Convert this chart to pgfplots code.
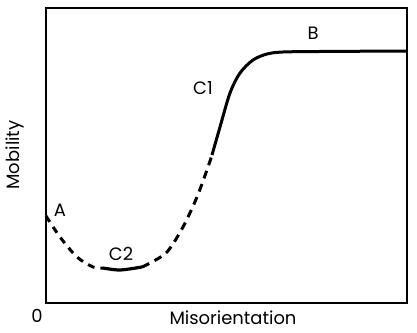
\documentclass[border=0pt]{standalone}
\usepackage{pgfplots}
\pgfplotsset{compat=1.18}
\usepackage{fontspec}
\setmainfont{Poppins}
\begin{document}
\begin{tikzpicture}[x=1bp,y=1bp]
\begin{axis}[
  scale only axis, width=361bp, height=295bp,
  xmin=0, xmax=361, ymin=0, ymax=295,
  ticks=none, clip=false,
  axis line style={line width=2bp},
]
\addplot[black, line width=3bp, dash pattern=on 7bp off 6bp, smooth] coordinates {
(0,87) (14,66) (31,46) (47,36) (57,35)};
\addplot[black, line width=3.2bp, smooth] coordinates {
(57,35) (74,33) (96,36)};
\addplot[black, line width=3bp, dash pattern=on 8bp off 6bp, smooth] coordinates {
(96,36) (104,40) (121,51) (137,76) (151,106) (162,136) (166,148)};
\addplot[black, line width=3bp, smooth] coordinates {
(166,148) (174,176) (184,210) (194,230) (207,243) (221,249) (237,251) (274,251.5) (361,252)};
\node[font=\fontsize{18}{18}\selectfont] at (axis cs:14,93) {A};
\node[font=\fontsize{18}{18}\selectfont] at (axis cs:75,49) {C2};
\node[font=\fontsize{18}{18}\selectfont] at (axis cs:157,215) {C1};
\node[font=\fontsize{18}{18}\selectfont] at (axis cs:267,270) {B};
\node[font=\fontsize{18}{18}\selectfont] at (axis cs:-9,-13) {0};
\node[font=\fontsize{18}{18}\selectfont] at (axis cs:187,-15) {Misorientation};
\node[font=\fontsize{18}{18}\selectfont, rotate=90] at (axis cs:-31,148) {Mobility};
\end{axis}
\pgfresetboundingbox
\path[use as bounding box] (-46bp,-30bp) rectangle (371bp,303bp);
\end{tikzpicture}
\end{document}
